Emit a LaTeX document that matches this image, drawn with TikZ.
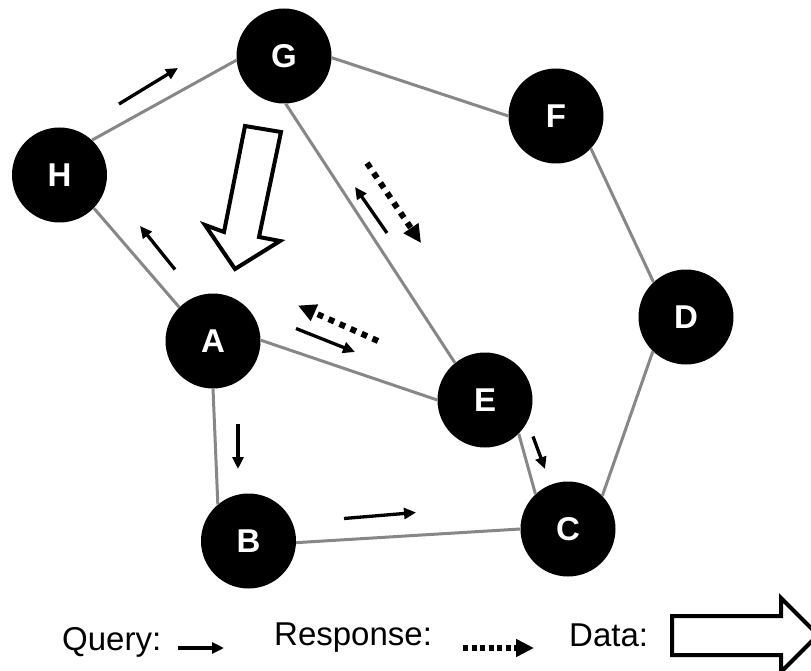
\documentclass[tikz,border=0pt]{standalone}
\usepackage{fontspec}
\setmainfont{Liberation Sans}
\usetikzlibrary{arrows.meta}
\begin{document}
\begin{tikzpicture}[x=1pt,y=-1pt,
  peer/.style={circle,fill=black,minimum size=95pt,inner sep=0pt,text=white,font=\fontsize{33}{38}\selectfont\bfseries},
  link/.style={draw=black!47,line width=3pt},
  query/.style={line width=3.3pt,-{Triangle[length=12pt,width=11pt]}},
  resp/.style={line width=6pt,dash pattern=on 6pt off 6pt,-{Triangle[length=18pt,width=17pt]}},
  respkey/.style={line width=6pt,dash pattern=on 5pt off 3.5pt,-{Triangle[length=18pt,width=17pt]}},
  dataarrow/.style={draw=black,line width=4pt,fill=white,line join=miter},
  legend/.style={font=\fontsize{33}{38}\selectfont,anchor=base west,inner sep=0pt}]
\useasboundingbox (0,0) rectangle (811,671);
\clip (0,0) rectangle (811,671);
% nodes
\node[peer] (G) at (284,56) {G};
\node[peer] (H) at (59.5,175) {H};
\node[peer] (F) at (556,116) {F};
\node[peer] (D) at (686,317) {D};
\node[peer] (A) at (213,341) {A};
\node[peer] (E) at (485,400) {E};
\node[peer] (B) at (248.5,541) {B};
\node[peer] (C) at (568,529) {C};
% links
\draw[link] (H.47) -- (G.185);
\draw[link] (G.-2) -- (F.180);
\draw[link] (G.272) -- (E.129);
\draw[link] (H.-44) -- (A.135);
\draw[link] (A.1) -- (E.180);
\draw[link] (A.270) -- (B.130);
\draw[link] (B.-2) -- (C.180);
\draw[link] (E.-45) -- (C.133);
\draw[link] (F.-43) -- (D.133);
\draw[link] (D.226) -- (C.44);
% query arrows
\draw[query] (119,104) -- (178,68);
\draw[query] (175,269.5) -- (140,226);
\draw[query] (387,233) -- (355,187);
\draw[query] (296,328.5) -- (355,352);
\draw[query] (238,423.5) -- (238,469);
\draw[query] (344,518.5) -- (416,512.5);
\draw[query] (533,436.5) -- (545,469);
% response arrows
\draw[resp] (367,163) -- (421,243);
\draw[resp] (378,341) -- (298,305.5);
% data arrow
\draw[dataarrow] (245,126) -- (281,132) -- (259,237) -- (280,241) -- (235,269) -- (205,225) -- (224,232) -- cycle;
% legend
\node[legend] (lq) at (62,650) {Query:};
\draw[query] (178,648) -- (224,648);
\node[legend] (lr) at (274,645) {Response:};
\draw[respkey] (463,648) -- (534,648);
\node[legend] (ld) at (569,646) {Data:};
\draw[dataarrow] (672,616) -- (781,616) -- (781,598) -- (818,635) -- (781,672) -- (781,655) -- (672,655) -- cycle;
\end{tikzpicture}
\end{document}
